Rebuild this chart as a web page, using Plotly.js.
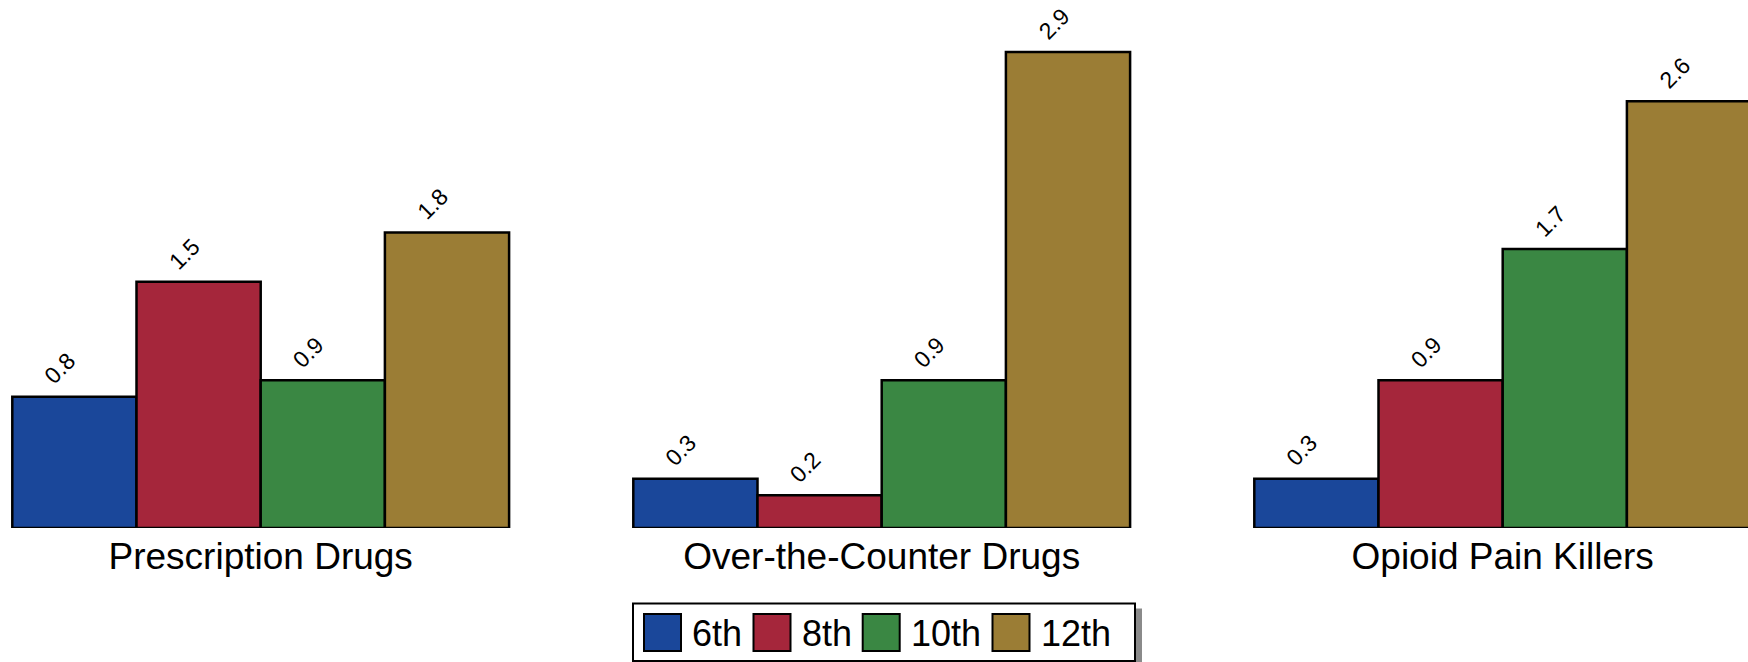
<!DOCTYPE html>
<html>
<head>
<meta charset="utf-8">
<script src="https://cdn.plot.ly/plotly-3.0.1.min.js"></script>
<style>
  html, body { margin: 0; padding: 0; background: #ffffff; }
  #chart { width: 1748px; height: 662px; }
</style>
</head>
<body>
<div id="chart"></div>
<script>
// ---- data ----
const categories = ["Prescription Drugs", "Over-the-Counter Drugs", "Opioid Pain Killers"];
const seriesNames = ["6th", "8th", "10th", "12th"];
const grade6  = [0.8, 0.3, 0.3];
const grade8  = [1.5, 0.2, 0.9];
const grade10 = [0.9, 0.9, 1.7];
const grade12 = [1.8, 2.9, 2.6];
const seriesValues = [grade6, grade8, grade10, grade12];
const seriesColors = ["#1A479A", "#A5263B", "#3A8743", "#9B7D35"];

// ---- layout constants (positions / sizes, not data) ----
const W = 1748, H = 662;
const MB = 134;             // bottom margin
const PH = H - MB;          // plot height in px
const BARGAP = 0.2;
const FONT = "Liberation Sans, Arial, Helvetica, sans-serif";
const px2x = p => p / W;
const px2y = p => (PH - p) / PH;

const traces = seriesValues.map((vals, j) => ({
  type: "bar",
  name: seriesNames[j],
  x: categories,
  y: vals,
  marker: { color: seriesColors[j], line: { color: "#000000", width: 2.5 } },
  showlegend: false,
  hoverinfo: "x+y+name"
}));

// value labels
const nS = seriesValues.length;
const barW = (1 - BARGAP) / nS;
const annotations = [];
seriesValues.forEach((vals, j) => {
  vals.forEach((v, i) => {
    annotations.push({
      x: i + (j - (nS - 1) / 2) * barW,
      y: v,
      xref: "x", yref: "y",
      text: v.toFixed(1),
      showarrow: false,
      textangle: -45,
      xanchor: "right",
      yanchor: "bottom",
      xshift: 9,
      yshift: 5,
      font: { family: FONT, size: 23, color: "#000000" }
    });
  });
});

// custom legend
const legendBox = { x0: 633, x1: 1135, y0: 603.5, y1: 661 };
const swatchLeft = [644, 753.5, 862.7, 992.5];
const swatchSize = 37;
const swatchTop = 614;
const shapes = [];
shapes.push({ type: "rect", xref: "paper", yref: "paper",
  x0: px2x(legendBox.x1), x1: px2x(legendBox.x1 + 7), y0: px2y(legendBox.y0 + 5), y1: px2y(H + 2),
  fillcolor: "#8a8a8a", line: { width: 0 }, layer: "above" });
shapes.push({ type: "rect", xref: "paper", yref: "paper",
  x0: px2x(legendBox.x0), x1: px2x(legendBox.x1), y0: px2y(legendBox.y0), y1: px2y(legendBox.y1),
  fillcolor: "#ffffff", line: { color: "#000000", width: 2 }, layer: "above" });
seriesNames.forEach((nm, j) => {
  shapes.push({ type: "rect", xref: "paper", yref: "paper",
    x0: px2x(swatchLeft[j]), x1: px2x(swatchLeft[j] + swatchSize),
    y0: px2y(swatchTop), y1: px2y(swatchTop + swatchSize),
    fillcolor: seriesColors[j], line: { color: "#000000", width: 2 }, layer: "above" });
  annotations.push({
    xref: "paper", yref: "paper",
    x: px2x(swatchLeft[j] + swatchSize + 9),
    y: px2y(swatchTop + swatchSize / 2 + 1),
    text: nm, showarrow: false, xanchor: "left", yanchor: "middle",
    font: { family: FONT, size: 36, color: "#000000" }
  });
});

const layout = {
  width: W, height: H,
  margin: { l: 0, r: 0, t: 0, b: MB, pad: 0 },
  paper_bgcolor: "#ffffff",
  plot_bgcolor: "#ffffff",
  barmode: "group",
  bargap: BARGAP,
  bargroupgap: 0,
  showlegend: false,
  font: { family: FONT, color: "#000000" },
  xaxis: {
    type: "category",
    range: [-0.4198, 2.395],
    showline: false, showgrid: false, zeroline: false,
    ticks: "", ticklen: 0,
    tickfont: { family: FONT, size: 37, color: "#000000" },
    ticklabelstandoff: 3,
    fixedrange: true
  },
  yaxis: {
    visible: false,
    range: [0, PH / 164.1],
    showgrid: false, zeroline: false,
    fixedrange: true
  },
  annotations: annotations,
  shapes: shapes
};

Plotly.newPlot("chart", traces, layout, { displayModeBar: false, staticPlot: true });
</script>
</body>
</html>
